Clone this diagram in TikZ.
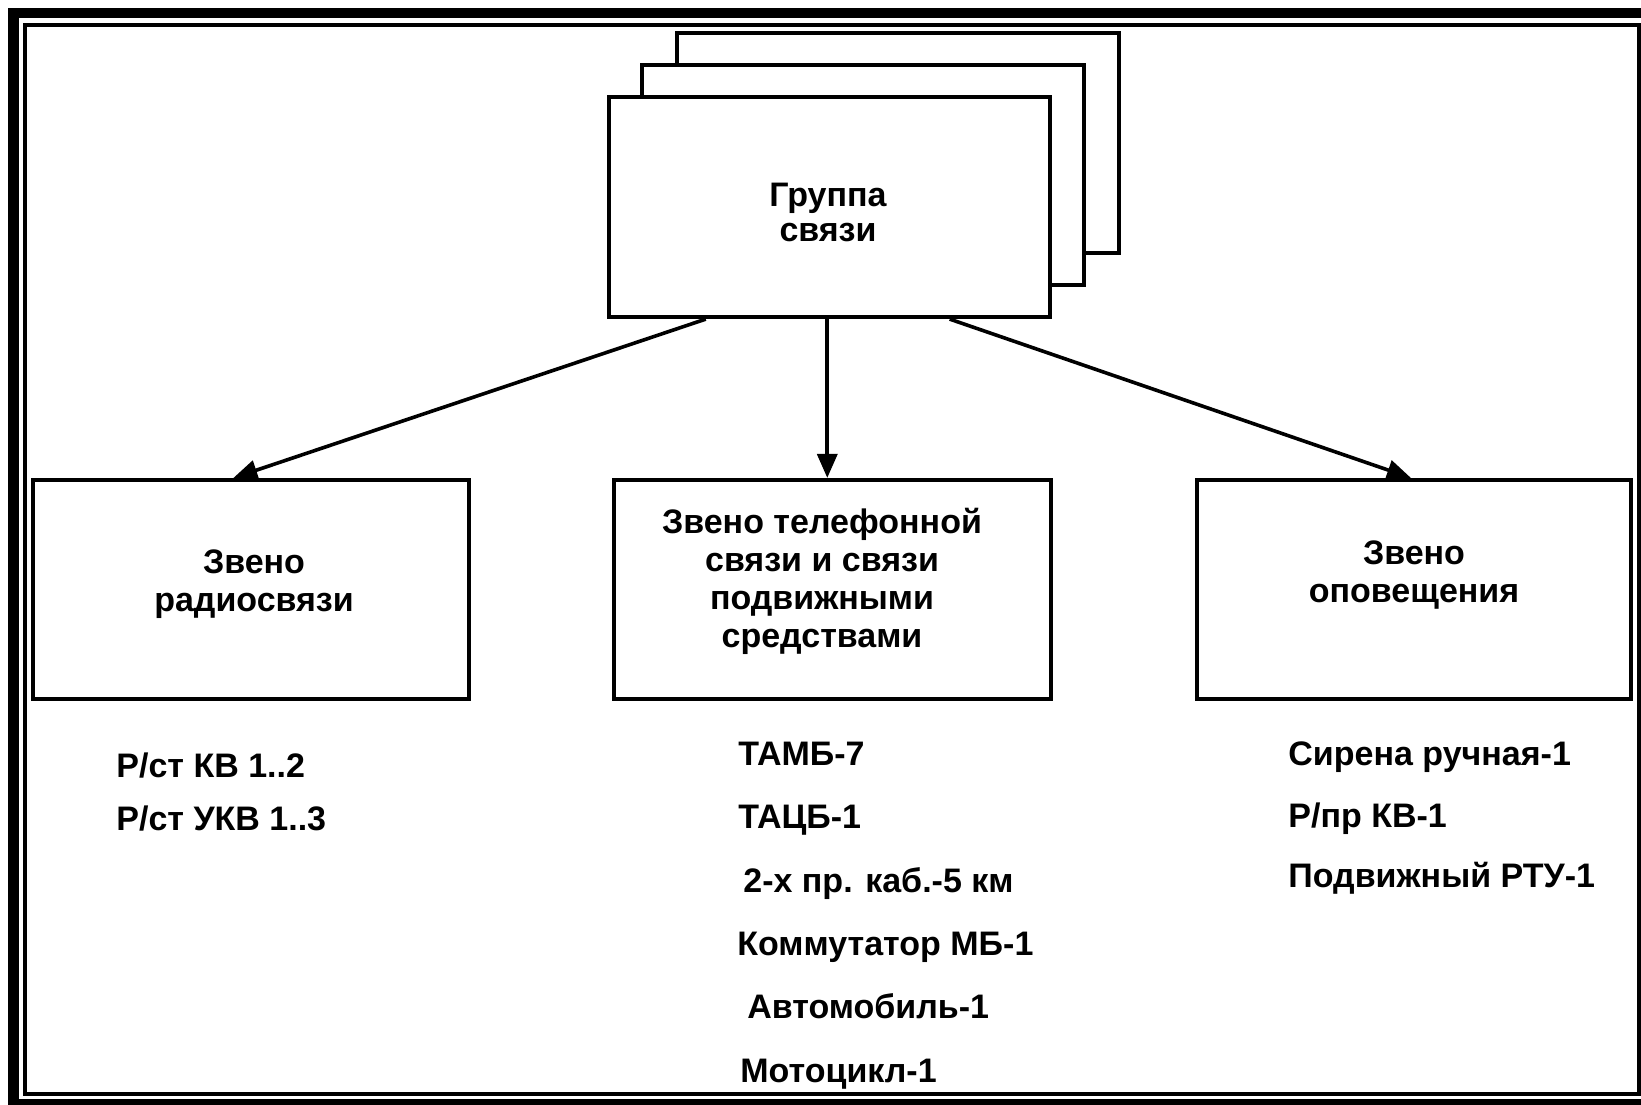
\documentclass[tikz,border=0pt]{standalone}
\usepackage{fontspec}
\setmainfont{Liberation Sans}
\usetikzlibrary{arrows.meta,calc}
\begin{document}
\begin{tikzpicture}[x=0.5pt,y=-0.5pt,
  box/.style={draw, line width=2.1pt, fill=white, inner sep=0pt},
  lbl/.style={font=\fontsize{17}{19}\selectfont\bfseries, align=center, inner sep=0pt},
  item/.style={font=\fontsize{17}{19}\selectfont\bfseries, anchor=base west, inner sep=0pt},
  conn/.style={line width=1.8pt, -{Triangle[length=12pt,width=10pt]}},
]
\path[use as bounding box, clip] (0,0) rectangle (1641,1104);
\fill[white] (0,0) rectangle (1641,1104);
% frame
\draw[line width=5.25pt] (13.5,13) rectangle (1652,1104.5);
\draw[line width=2pt] (25,25) rectangle (1638.5,1094);

% stacked top boxes
\node[box, minimum width=221pt, minimum height=110pt] (back) at (898,143) {};
\node[box, minimum width=221pt, minimum height=110pt] (middle) at (863,175) {};
\node[box, minimum width=220.5pt, minimum height=110pt] (front) at (829.5,207) {};
\node[lbl, font=\fontsize{17}{17.5}\selectfont\bfseries] (fronttxt) at (828,212) {Группа\\связи};

% lower boxes
\node[box, minimum width=218pt, minimum height=109.5pt] (left) at (251,589.5) {};
\node[box, minimum width=218.5pt, minimum height=109.5pt] (center) at (832.5,589.5) {};
\node[box, minimum width=217pt, minimum height=109.5pt] (right) at (1414,589.5) {};

\node[lbl] (lefttxt) at (254,584) {Звено\\радиосвязи};
\node[lbl] (centertxt) at (822,581.5) {Звено телефонной\\связи и связи\\подвижными\\средствами};
\node[lbl] (righttxt) at (1414,575) {Звено\\оповещения};

% connectors
\coordinate (s1) at ($(front.south west)!0.222!(front.south east)$);
\coordinate (s2) at ($(front.south west)!0.495!(front.south east)$);
\coordinate (s3) at ($(front.south west)!0.77!(front.south east)$);
\coordinate (e1) at ($(left.north west)!0.46!(left.north east)$);
\coordinate (e3) at ($(right.north west)!0.493!(right.north east)$);
\draw[conn] (s1) -- (e1);
\draw[conn] (s2) -- (s2 |- center.north);
\draw[conn] (s3) -- (e3);

% lists
\node[item] (l1) at (116,777) {Р/ст КВ 1..2};
\node[item] (l2) at (116,830) {Р/ст УКВ 1..3};

\node[item] (c1) at (738,765) {ТАМБ-7};
\node[item] (c2) at (738,828) {ТАЦБ-1};
\node[item] (c3) at (743,892) {2-х пр. каб.-5 км};
\node[item] (c4) at (737,955) {Коммутатор МБ-1};
\node[item] (c5) at (747,1018) {Автомобиль-1};
\node[item] (c6) at (740,1082) {Мотоцикл-1};

\node[item] (r1) at (1288,765) {Сирена ручная-1};
\node[item] (r2) at (1288,827) {Р/пр КВ-1};
\node[item] (r3) at (1288,887) {Подвижный РТУ-1};
\end{tikzpicture}
\end{document}
